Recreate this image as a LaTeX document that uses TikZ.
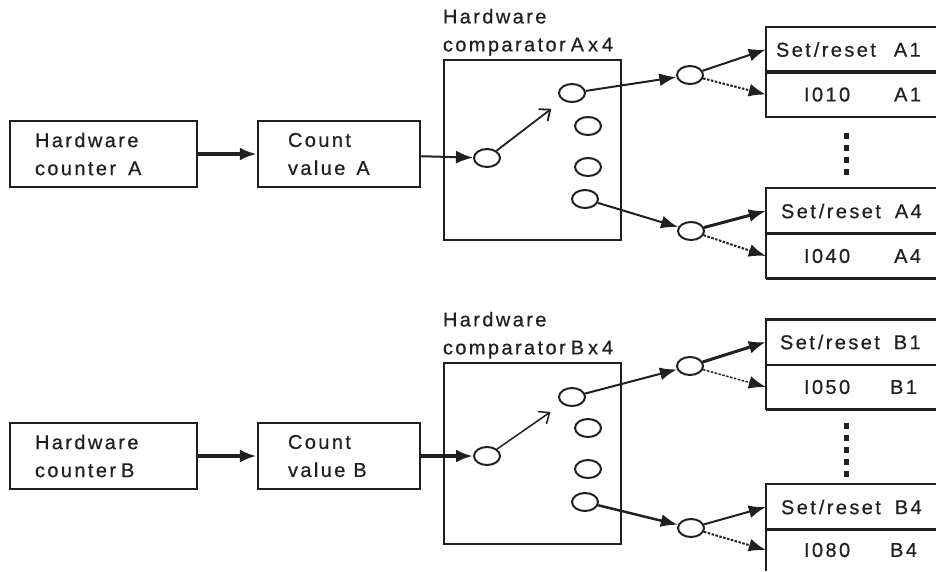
\documentclass[tikz,border=0pt]{standalone}
\usepackage{fontspec}
\newfontfamily\diagfont{Liberation Sans}[LetterSpace=12,FakeBold=0.6]
\usepackage{xcolor}
\usepackage{tikz}
\usetikzlibrary{arrows.meta,positioning,shapes.geometric,calc}

\definecolor{ink}{RGB}{35,31,32}

\begin{document}
\begin{tikzpicture}[
  x=1pt, y=-1pt,
  every node/.style={font=\diagfont\fontsize{20}{28}\selectfont, text=ink},
  block/.style={rectangle, draw=ink, line width=2.5pt, align=left, minimum height=66pt, inner ysep=0pt},
  counter/.style={block, text width=137pt, inner xsep=25pt},
  value/.style={block, text width=102pt, inner xsep=30pt},
  comparator/.style={rectangle, draw=ink, line width=2.5pt, minimum width=177pt, minimum height=180pt},
  contact/.style={ellipse, draw=ink, line width=2pt, minimum width=26pt, minimum height=18pt, inner sep=0pt},
  slot/.style={rectangle, text width=150pt, inner xsep=10pt, inner ysep=0pt, align=left, minimum height=45pt},
  title/.style={anchor=south west, inner sep=0pt, yshift=3pt, align=left},
  frame/.style={draw=ink, line width=1.8pt},
  divider/.style={draw=ink, line width=3.5pt},
  flow/.style={-{Latex[length=17pt,width=13pt]}, draw=ink, line width=2pt},
  heavy/.style={flow, line width=4pt},
  spare/.style={flow, dash pattern=on 2.5pt off 1.5pt},
  toggle/.style={-{Straight Barb[length=9pt,width=15pt]}, draw=ink, line width=1.8pt},
  skipmark/.style={draw=ink, line width=5pt, dash pattern=on 5.5pt off 6.5pt}
]
  \useasboundingbox (0,0) rectangle (936,571);

  % Channel A: counter and count value
  \node[counter] (hcA) at (103.5,154) {Hardware\\counter\hspace{12pt}A};
  \node[value] (cvA) at (339,154) {Count\\value\hspace{11pt}A};

  % Channel A: comparator with its contacts
  \node[comparator] (cmpA) at (532.5,150) {};
  \node[title] (lblA) at (cmpA.north west) {Hardware\\comparator\hspace{5pt}A\hspace{4pt}x\hspace{4pt}4};
  \node[contact] (inA) at (487,158) {};
  \node[contact] (oA1) at (572,93) {};
  \node[contact] (oA2) at (588,126) {};
  \node[contact] (oA3) at (588,167) {};
  \node[contact] (oA4) at (585,199) {};
  \node[contact] (rlA1) at (690,75) {};
  \node[contact] (rlA4) at (691,231) {};

  % Channel A: output slots
  \node[slot] (srA1) at (851,49.5) {Set\hspace{3pt}/reset\hspace{18pt}A1};
  \node[slot] (ioA1) at (851,94.5) {\hspace*{28pt}I010\hspace{44pt}A1};
  \node[slot] (srA4) at (851,211) {\hspace*{5pt}Set\hspace{3pt}/reset\hspace{14pt}A4};
  \node[slot] (ioA4) at (851,256) {\hspace*{28pt}I040\hspace{44pt}A4};
  \draw[frame] (srA1.north east) -- (srA1.north west) -- (ioA1.south west) -- (ioA1.south east);
  \draw[divider] (srA1.south west) -- (srA1.south east);
  \draw[frame] (srA4.north east) -- (srA4.north west) -- (ioA4.south west);
  \draw[divider] (srA4.south west) -- (srA4.south east);
  \draw[divider] (ioA4.south west) -- (ioA4.south east);
  \draw[skipmark] (846,133) -- (846,175);

  % Channel A: connections
  \draw[heavy] (hcA) -- (cvA);
  \draw[flow] (cvA) -- (inA);
  \draw[toggle, shorten >=14pt] (inA) -- (oA1);
  \draw[flow] (oA1) -- (rlA1);
  \draw[flow] (oA4) -- (rlA4);
  \draw[flow] (rlA1) -- (srA1.west);
  \draw[spare] (rlA1) -- (ioA1.west);
  \draw[flow, line width=3pt] (rlA4) -- (srA4.west);
  \draw[spare] (rlA4) -- (ioA4.west);

  % Channel B: counter and count value
  \node[counter] (hcB) at (103.5,456) {Hardware\\counter\hspace{5pt}B};
  \node[value] (cvB) at (339,456) {Count\\value\hspace{8pt}B};

  % Channel B: comparator with its contacts
  \node[comparator, minimum height=181pt] (cmpB) at (532.5,453.5) {};
  \node[title] (lblB) at (cmpB.north west) {Hardware\\comparator\hspace{5pt}B\hspace{4pt}x\hspace{4pt}4};
  \node[contact] (inB) at (487,456) {};
  \node[contact] (oB1) at (572,397) {};
  \node[contact] (oB2) at (588,428) {};
  \node[contact] (oB3) at (588,469) {};
  \node[contact] (oB4) at (585,502) {};
  \node[contact] (rlB1) at (690,366) {};
  \node[contact] (rlB4) at (691,528) {};

  % Channel B: output slots
  \node[slot] (srB1) at (851,342) {\hspace*{4pt}Set\hspace{3pt}/reset\hspace{14pt}B1};
  \node[slot] (ioB1) at (851,387) {\hspace*{28pt}I050\hspace{40pt}B1};
  \node[slot] (srB4) at (851,507) {\hspace*{5pt}Set\hspace{3pt}/reset\hspace{14pt}B4};
  \node[slot, minimum height=42pt] (ioB4) at (851,550) {\hspace*{28pt}I080\hspace{40pt}B4};
  \draw[frame] (srB1.north east) -- (srB1.north west) -- (ioB1.south west);
  \draw[divider] (srB1.north west) -- (srB1.north east);
  \draw[frame] (srB1.south west) -- (srB1.south east);
  \draw[divider] (ioB1.south west) -- (ioB1.south east);
  \draw[frame] (srB4.north east) -- (srB4.north west) -- (ioB4.south west);
  \draw[divider] (srB4.south west) -- (srB4.south east);
  \draw[skipmark] (846,423) -- (846,479);

  % Channel B: connections
  \draw[heavy] (hcB) -- (cvB);
  \draw[heavy] (cvB) -- (inB);
  \draw[toggle, line width=1.5pt, shorten >=14pt] (inB) -- (oB1);
  \draw[flow] (oB1) -- (rlB1);
  \draw[flow, line width=2.5pt] (oB4) -- (rlB4);
  \draw[flow, line width=3pt] (rlB1) -- (srB1.west);
  \draw[spare, line width=1.5pt] (rlB1) -- (ioB1.west);
  \draw[flow] (rlB4) -- (srB4.west);
  \draw[spare] (rlB4) -- (ioB4.west);
\end{tikzpicture}
\end{document}
